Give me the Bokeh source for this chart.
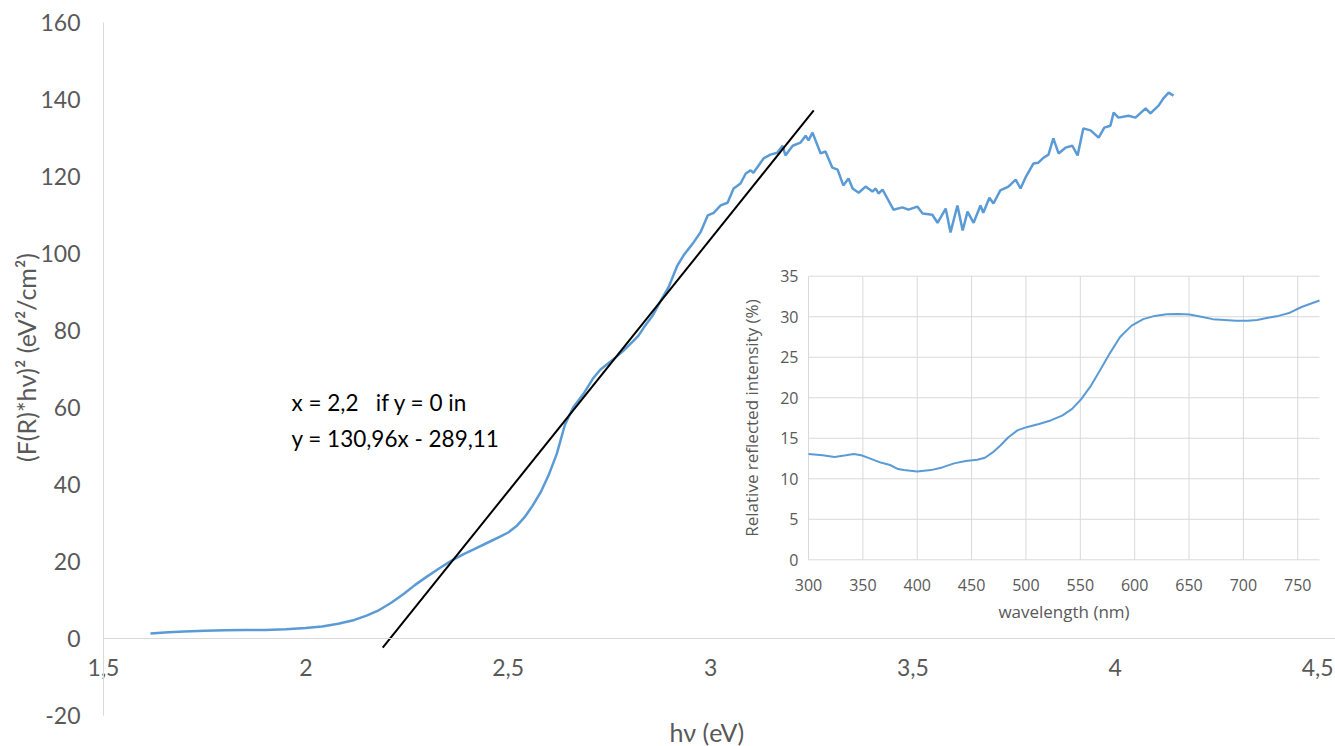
import math
from bokeh.plotting import figure
from bokeh.models import Range1d, FixedTicker, Label, LinearAxis
from bokeh.embed import file_html
from bokeh.resources import INLINE

# ---------------- main chart data ----------------
hv = [1.616, 1.66, 1.70, 1.75, 1.80, 1.85, 1.90, 1.95, 2.00, 2.04, 2.08, 2.12, 2.15, 2.18,
      2.21, 2.24, 2.27, 2.30, 2.33, 2.36, 2.39, 2.42, 2.45, 2.48, 2.50, 2.52, 2.54, 2.56,
      2.58, 2.60, 2.62, 2.64, 2.66, 2.686, 2.709, 2.728, 2.746, 2.765, 2.785, 2.81, 2.822,
      2.835, 2.857, 2.877, 2.896, 2.918, 2.933, 2.956, 2.975, 2.993, 3.008, 3.025, 3.042,
      3.057, 3.074, 3.087, 3.099, 3.106, 3.131, 3.148, 3.165, 3.178, 3.185, 3.203, 3.222,
      3.235, 3.242, 3.252, 3.272, 3.284, 3.301, 3.314, 3.328, 3.341, 3.351, 3.366, 3.383,
      3.400, 3.408, 3.415, 3.425, 3.437, 3.452, 3.474, 3.489, 3.511, 3.524, 3.548, 3.561,
      3.581, 3.593, 3.610, 3.623, 3.635, 3.650, 3.667, 3.674, 3.689, 3.699, 3.716, 3.736,
      3.754, 3.766, 3.778, 3.798, 3.810, 3.823, 3.835, 3.847, 3.860, 3.877, 3.894, 3.907,
      3.921, 3.939, 3.959, 3.973, 3.988, 3.996, 4.008, 4.033, 4.050, 4.075, 4.087, 4.107,
      4.119, 4.132, 4.144]
fr_hv2 = [1.4, 1.7, 1.9, 2.1, 2.2, 2.3, 2.3, 2.5, 2.8, 3.2, 3.9, 4.9, 6.0, 7.4,
          9.3, 11.5, 14.0, 16.2, 18.3, 20.3, 22.0, 23.5, 25.0, 26.5, 27.6, 29.2, 31.5, 34.5,
          38.0, 42.5, 48.0, 55.5, 60.0, 63.6, 67.5, 69.9, 71.4, 73.0, 74.8, 77.4, 78.7,
          80.8, 83.9, 87.8, 91.2, 96.9, 99.5, 102.6, 105.5, 109.9, 110.6, 112.5, 113.2,
          116.9, 118.2, 120.8, 121.6, 121.0, 124.7, 125.7, 126.2, 128.0, 125.5, 128.0, 128.8,
          130.6, 129.4, 131.4, 126.0, 126.5, 122.3, 121.8, 117.7, 119.5, 116.9, 115.8, 117.4,
          116.1, 116.9, 115.6, 116.6, 114.3, 111.4, 112.0, 111.4, 112.2, 110.4, 110.1, 108.0,
          111.7, 105.5, 112.5, 106.0, 110.9, 108.0, 112.5, 110.6, 114.5, 113.0, 116.4, 117.4,
          119.2, 116.9, 119.7, 123.4, 123.6, 124.9, 125.7, 129.9, 126.0, 127.5, 128.0, 125.5,
          132.5, 132.0, 130.1, 132.7, 133.2, 136.6, 135.3, 135.8, 135.3, 137.7, 136.4, 138.4,
          140.3, 141.8, 141.0]

# linear fit shown on the chart
fit_slope = 130.96
fit_intercept = -289.11
fit_x = [2.19, 3.255]
fit_y = [fit_slope * x + fit_intercept for x in fit_x]

x_ticks = [1.5, 2.0, 2.5, 3.0, 3.5, 4.0, 4.5]
x_tick_labels = ["1,5", "2", "2,5", "3", "3,5", "4", "4,5"]
y_ticks = [-20, 0, 20, 40, 60, 80, 100, 120, 140, 160]
y_tick_labels = ["-20", "0", "20", "40", "60", "80", "100", "120", "140", "160"]

annotation_lines = ["x = 2,2\u00a0\u00a0\u00a0if y = 0 in", "y = 130,96x - 289,11"]
x_title = "hν (eV)"
y_title = "(F(R)*hν)² (eV²/cm²)"

# ---------------- inset data ----------------
wavelength = [300, 313, 324, 334.5, 341.5, 348.6, 355.7, 366.4, 375, 382.4, 387.7, 400,
              412.6, 423, 433.9, 444.5, 455.2, 462.3, 469.4, 476.5, 483.6, 492.5, 501.4,
              512, 522.7, 533.3, 542.2, 551, 559.9, 568.8, 577.7, 586.6, 597.2, 607.9,
              618.5, 629.2, 639.9, 650.5, 661.2, 671.8, 682.5, 693.1, 703.8, 712.6, 721.5,
              732.2, 742.8, 753.5, 770]
reflect = [13.05, 12.9, 12.7, 12.9, 13.05, 12.9, 12.55, 12.0, 11.7, 11.2, 11.07, 10.9,
           11.07, 11.4, 11.9, 12.2, 12.35, 12.6, 13.25, 14.1, 15.1, 16.0, 16.4,
           16.75, 17.2, 17.8, 18.6, 19.85, 21.5, 23.55, 25.6, 27.5, 28.9, 29.7,
           30.1, 30.3, 30.34, 30.26, 30.0, 29.7, 29.6, 29.5, 29.5, 29.6, 29.85,
           30.1, 30.5, 31.2, 32.0]
wl_ticks = [300, 350, 400, 450, 500, 550, 600, 650, 700, 750]
rf_ticks = [0, 5, 10, 15, 20, 25, 30, 35]
wl_limits = (300, 770)
rf_limits = (0, 35)
inset_x_title = "wavelength (nm)"
inset_y_title = "Relative reflected intensity (%)"

BLUE = "#5b9bd5"
GREY = "#595959"
AXIS = "#d9d9d9"
MAIN_FONT = "Lato"
INSET_FONT = "Open Sans"

# ---------------- geometry (pixels) ----------------
W, H = 1335, 746
px_per_x = 404.7          # main: pixels per eV
px_per_y = 3.852          # main: pixels per unit
x0_px = 103               # pixel column of hv = 1.5
y0_px = 638.3             # pixel row of y = 0
x_start = 1.5 - x0_px / px_per_x
x_end = x_start + W / px_per_x
y_top = 0 + y0_px / px_per_y
y_bot = y_top - H / px_per_y

# inset frame in pixels: left, right, top, bottom
in_l, in_r, in_t, in_b = 808.0, 1319.0, 275.7, 559.3
sx = (in_r - in_l) / (wl_limits[1] - wl_limits[0])
sy = (in_b - in_t) / (rf_limits[1] - rf_limits[0])
wl_start = wl_limits[0] - in_l / sx
wl_end = wl_start + W / sx
rf_start = rf_limits[0] - (H - in_b) / sy
rf_end = rf_start + H / sy

p = figure(width=W, height=H, output_backend="svg", toolbar_location=None,
           x_range=Range1d(x_start, x_end), y_range=Range1d(y_bot, y_top),
           min_border_left=0, min_border_right=0, min_border_top=0, min_border_bottom=0)
p.extra_x_ranges = {"wl": Range1d(wl_start, wl_end)}
p.extra_y_ranges = {"rf": Range1d(rf_start, rf_end)}
p.outline_line_color = None
p.xgrid.visible = False
p.ygrid.visible = False

# ---------- inset grid (drawn from the tick lists) ----------
p.segment(x0=wl_ticks, y0=[rf_limits[0]] * len(wl_ticks),
          x1=wl_ticks, y1=[rf_limits[1]] * len(wl_ticks),
          line_color=AXIS, line_width=1, x_range_name="wl", y_range_name="rf")
p.segment(x0=[wl_limits[0]] * len(rf_ticks), y0=rf_ticks,
          x1=[wl_limits[1]] * len(rf_ticks), y1=rf_ticks,
          line_color=AXIS, line_width=1, x_range_name="wl", y_range_name="rf")

# ---------- main series ----------
p.line(hv, fr_hv2, line_color=BLUE, line_width=2.5)
p.line(fit_x, fit_y, line_color="black", line_width=2)

# ---------- inset series ----------
p.line(wavelength, reflect, line_color=BLUE, line_width=2,
       x_range_name="wl", y_range_name="rf")

# ---------- main axes ----------
xa = p.xaxis[0]
xa.fixed_location = 0
xa.bounds = (1.5, x_end)
xa.ticker = FixedTicker(ticks=x_ticks)
xa.major_label_overrides = {t: l for t, l in zip(x_ticks, x_tick_labels)}
xa.major_label_standoff = 20

ya = p.yaxis[0]
ya.fixed_location = 1.5
ya.bounds = (-20, 160)
ya.ticker = FixedTicker(ticks=y_ticks)
ya.major_label_overrides = {t: l for t, l in zip(y_ticks, y_tick_labels)}
ya.major_label_standoff = 23

for ax in (xa, ya):
    ax.axis_line_color = AXIS
    ax.axis_line_width = 1
    ax.major_tick_line_color = None
    ax.minor_tick_line_color = None
    ax.major_tick_out = 0
    ax.major_tick_in = 0
    ax.minor_tick_out = 0
    ax.major_label_text_font = MAIN_FONT
    ax.major_label_text_font_size = "23px"
    ax.major_label_text_color = GREY

# ---------- inset axes ----------
ix = LinearAxis(x_range_name="wl", y_range_name="rf", fixed_location=rf_limits[0],
                bounds=wl_limits, ticker=FixedTicker(ticks=wl_ticks),
                axis_label=inset_x_title, major_label_standoff=19, axis_label_standoff=6)
iy = LinearAxis(x_range_name="wl", y_range_name="rf", fixed_location=wl_limits[0],
                bounds=rf_limits, ticker=FixedTicker(ticks=rf_ticks),
                axis_label=inset_y_title, major_label_standoff=10, axis_label_standoff=14)
for ax in (ix, iy):
    ax.axis_line_color = None
    ax.major_tick_line_color = None
    ax.minor_tick_line_color = None
    ax.major_tick_out = 0
    ax.major_tick_in = 0
    ax.minor_tick_out = 0
    ax.major_label_text_font = INSET_FONT
    ax.major_label_text_font_size = "16px"
    ax.major_label_text_color = GREY
    ax.axis_label_text_font = INSET_FONT
    ax.axis_label_text_font_size = "17px"
    ax.axis_label_text_font_style = "normal"
    ax.axis_label_text_color = GREY
p.add_layout(ix, "below")
p.add_layout(iy, "left")

# ---------- titles and annotation ----------
p.add_layout(Label(x=25, y=H - 357, x_units="screen", y_units="screen",
                   text=y_title, angle=math.pi / 2, text_align="center",
                   text_baseline="middle", text_font=MAIN_FONT,
                   text_font_size="25px", text_color=GREY))
p.add_layout(Label(x=2.99, y=-24.3, text=x_title, text_align="center",
                   text_baseline="middle", text_font=MAIN_FONT,
                   text_font_size="25px", text_color=GREY))
p.add_layout(Label(x=1.9645, y=61.4, text=annotation_lines[0], text_align="left",
                   text_baseline="middle", text_font=MAIN_FONT,
                   text_font_size="22.5px", text_color="black"))
p.add_layout(Label(x=1.9645, y=52.0, text=annotation_lines[1], text_align="left",
                   text_baseline="middle", text_font=MAIN_FONT,
                   text_font_size="22.5px", text_color="black"))

open("out.html", "w").write(file_html(p, INLINE))
